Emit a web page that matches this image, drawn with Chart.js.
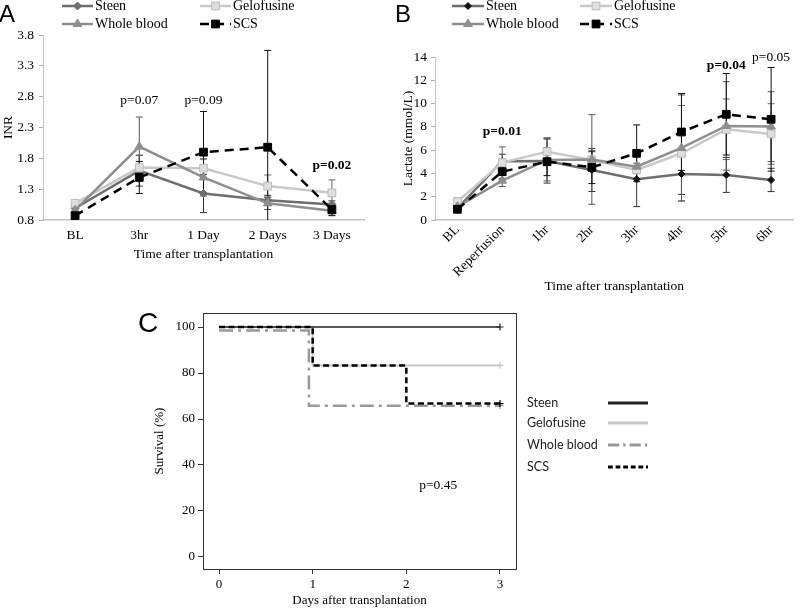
<!DOCTYPE html>
<html>
<head>
<meta charset="utf-8">
<script src="https://cdn.jsdelivr.net/npm/chart.js@4.4.1/dist/chart.umd.min.js"></script>
<style>
  body { margin: 0; background: #fff; }
  #wrap { position: relative; width: 800px; height: 608px; overflow: hidden; }
  canvas { position: absolute; }
  .letter { position: absolute; font-family: "Liberation Sans", Arial, sans-serif; color: #000; }
</style>
</head>
<body>
<div id="wrap">
  <canvas id="chartA" width="400" height="270" style="left:0;top:0"></canvas>
  <canvas id="chartB" width="400" height="300" style="left:400px;top:0"></canvas>
  <canvas id="chartC" width="540" height="308" style="left:130px;top:300px"></canvas>
  <div class="letter" style="left:-1px;top:2px;font-size:24px;line-height:24px">A</div>
  <div class="letter" style="left:395px;top:2px;font-size:24px;line-height:24px">B</div>
  <div class="letter" style="left:138px;top:309px;font-size:28px;line-height:28px">C</div>
</div>
<script>
// --- panel A: INR
var inrLabels = ["BL", "3hr", "1 Day", "2 Days", "3 Days"];
var inrTicks = [0.8, 1.3, 1.8, 2.3, 2.8, 3.3, 3.8];
var inrSteen = [0.99, 1.6, 1.23, 1.12, 1.05];
var inrSteenErr = [0.06, 0.25, 0.31, 0.08, 0.06];
var inrGelo = [1.07, 1.65, 1.64, 1.35, 1.24];
var inrGeloErr = [0.05, 0.2, 0.15, 0.18, 0.21];
var inrBlood = [0.96, 1.99, 1.49, 1.07, 0.95];
var inrBloodErr = [0.05, 0.48, 0.3, 0.1, 0.07];
var inrScs = [0.87, 1.49, 1.9, 1.98, 0.97];
var inrScsErr = [0.04, 0.26, 0.66, 1.57, 0.1];

// --- panel B: lactate
var lacLabels = ["BL", "Reperfusion", "1hr", "2hr", "3hr", "4hr", "5hr", "6hr"];
var lacSteen = [1.0, 5.05, 5.07, 4.3, 3.5, 3.95, 3.87, 3.44];
var lacSteenErr = [0.3, 0.6, 1.9, 1.85, 2.35, 1.75, 1.5, 1.0];
var lacGelo = [1.58, 4.93, 5.87, 5.16, 4.3, 5.73, 7.79, 7.39];
var lacGeloErr = [0.3, 1.35, 1.2, 0.7, 0.3, 4.1, 2.6, 2.6];
var lacBlood = [1.15, 3.38, 5.16, 5.2, 4.58, 6.19, 8.08, 8.02];
var lacBloodErr = [0.3, 0.5, 1.8, 3.85, 0.3, 4.55, 3.8, 3.0];
var lacScs = [0.92, 4.15, 5.01, 4.53, 5.73, 7.56, 9.08, 8.65];
var lacScsErr = [0.2, 0.7, 1.2, 1.4, 2.44, 3.3, 3.5, 4.45];

// --- panel C: survival (Kaplan-Meier steps)
var survTicksX = [0, 1, 2, 3];
var survTicksY = [0, 20, 40, 60, 80, 100];
var steenDays = [0, 3];
var steenSurv = [100, 100];
var geloDays = [0, 1, 3];
var geloSurv = [100, 83.3, 83.3];
var bloodDays = [0, 0.96, 3];
var bloodSurv = [98.5, 65.8, 65.8];
var scsDays = [0, 1, 2, 3];
var scsSurv = [100, 83.3, 66.7, 66.7];

var groups = ["Steen", "Gelofusine", "Whole blood", "SCS"];

var serif = "'Liberation Serif', 'Times New Roman', serif";

function drawMark(ctx, style, x, y, r) {
  ctx.beginPath();
  if (style === "rect") {
    var s = r * Math.SQRT1_2;
    ctx.rect(x - s, y - s, 2 * s, 2 * s);
  } else if (style === "rectRot") {
    ctx.moveTo(x, y - r); ctx.lineTo(x + r, y); ctx.lineTo(x, y + r); ctx.lineTo(x - r, y);
    ctx.closePath();
  } else if (style === "triangle") {
    ctx.moveTo(x, y - r);
    ctx.lineTo(x + r * 0.866, y + r * 0.5);
    ctx.lineTo(x - r * 0.866, y + r * 0.5);
    ctx.closePath();
  }
  ctx.fill();
  ctx.stroke();
}

// error bars under the lines
var errorBars = {
  id: "errorBars",
  beforeDatasetsDraw: function (chart) {
    var ctx = chart.ctx, ys = chart.scales.y, a = chart.chartArea;
    ctx.save();
    ctx.beginPath();
    ctx.rect(a.left, a.top, a.right - a.left, a.bottom - a.top);
    ctx.clip();
    chart.data.datasets.forEach(function (ds, i) {
      if (!ds.errors) return;
      var meta = chart.getDatasetMeta(i);
      ctx.strokeStyle = ds.errorColor;
      ctx.lineWidth = 1;
      meta.data.forEach(function (pt, j) {
        var v = ds.data[j], e = ds.errors[j];
        var top = ys.getPixelForValue(v + e), bot = ys.getPixelForValue(v - e);
        ctx.beginPath();
        ctx.moveTo(pt.x, top); ctx.lineTo(pt.x, bot);
        ctx.moveTo(pt.x - 3.5, top); ctx.lineTo(pt.x + 3.5, top);
        ctx.moveTo(pt.x - 3.5, bot); ctx.lineTo(pt.x + 3.5, bot);
        ctx.stroke();
      });
    });
    ctx.restore();
  }
};

// p-value notes placed in data coordinates
var notes = {
  id: "notes",
  afterDatasetsDraw: function (chart, args, opts) {
    var ctx = chart.ctx;
    ctx.save();
    ctx.fillStyle = "#000";
    ctx.textAlign = "center";
    ctx.textBaseline = "middle";
    (opts.items || []).forEach(function (n) {
      ctx.font = (n.bold ? "bold " : "") + "13.5px " + serif;
      ctx.fillText(n.text, chart.scales.x.getPixelForValue(n.x), chart.scales.y.getPixelForValue(n.y));
    });
    ctx.restore();
  }
};

// 2x2 legend with line + marker samples
var gridLegend = {
  id: "gridLegend",
  afterDraw: function (chart, args, opts) {
    if (!opts.cols) return;
    var ctx = chart.ctx;
    ctx.save();
    chart.data.datasets.forEach(function (ds, i) {
      var x0 = opts.cols[i % 2], y = opts.rows[Math.floor(i / 2)];
      ctx.strokeStyle = ds.borderColor;
      ctx.lineWidth = ds.borderWidth;
      ctx.setLineDash(ds.borderDash || []);
      ctx.beginPath();
      ctx.moveTo(x0, y); ctx.lineTo(x0 + opts.sample, y);
      ctx.stroke();
      ctx.setLineDash([]);
      ctx.fillStyle = ds.pointBackgroundColor;
      ctx.strokeStyle = ds.pointBorderColor;
      ctx.lineWidth = 1;
      drawMark(ctx, ds.pointStyle, x0 + opts.sample / 2, y, ds.pointRadius);
      ctx.fillStyle = "#000";
      ctx.font = "14px " + serif;
      ctx.textBaseline = "middle";
      ctx.fillText(ds.label, x0 + opts.sample + 2, y);
    });
    ctx.restore();
  }
};

function lineChart(id, labels, sets, yOpts, padding, yWidth, xHeight, xTicks, titlePad, notesItems, legendOpts) {
  return new Chart(document.getElementById(id), {
    type: "line",
    data: { labels: labels, datasets: sets },
    options: {
      responsive: false,
      animation: false,
      layout: { padding: padding },
      elements: { line: { tension: 0 } },
      plugins: {
        legend: { display: false },
        tooltip: { enabled: false },
        notes: { items: notesItems },
        gridLegend: legendOpts
      },
      scales: {
        x: {
          offset: true,
          grid: { drawOnChartArea: false, drawTicks: false },
          border: { color: "#c4c4c4", width: 1.5 },
          ticks: Object.assign({ color: "#000", autoSkip: false, font: { family: serif, size: 13.5 } }, xTicks),
          title: { display: true, text: "Time after transplantation", color: "#000",
                   font: { family: serif, size: 13.5 }, padding: { top: 0, bottom: titlePad } },
          afterFit: function (s) { s.height = xHeight; }
        },
        y: Object.assign({
          grid: { drawOnChartArea: false, tickLength: 4, color: "#aaa" },
          border: { color: "#c4c4c4", width: 1 },
          afterFit: function (s) { s.width = yWidth; }
        }, yOpts)
      }
    },
    plugins: [errorBars, notes, gridLegend]
  });
}

function groupStyles(steenMark, steenR) {
  return [
    { borderColor: "#6e6e6e", pointStyle: "rectRot", pointRadius: steenR,
      pointBackgroundColor: steenMark, pointBorderColor: steenMark, borderWidth: 2.5, errorColor: "#333" },
    { borderColor: "#c9c9c9", pointStyle: "rect", pointRadius: 5.5,
      pointBackgroundColor: "#dedede", pointBorderColor: "#bdbdbd", borderWidth: 2.5, errorColor: "#666" },
    { borderColor: "#8e8e8e", pointStyle: "triangle", pointRadius: 5,
      pointBackgroundColor: "#8e8e8e", pointBorderColor: "#8e8e8e", borderWidth: 2.5, errorColor: "#555" },
    { borderColor: "#000", borderDash: [9, 6], pointStyle: "rect", pointRadius: 5.5,
      pointBackgroundColor: "#000", pointBorderColor: "#000", borderWidth: 2.5, errorColor: "#111" }
  ];
}

// later series drawn on top (order 3..0)
function makeSets(values, errors, styles) {
  return groups.map(function (g, i) {
    return Object.assign({ label: g, data: values[i], errors: errors[i], pointBorderWidth: 1, order: 3 - i }, styles[i]);
  });
}

var stylesA = groupStyles("#6e6e6e", 4);
lineChart("chartA", inrLabels,
  makeSets([inrSteen, inrGelo, inrBlood, inrScs], [inrSteenErr, inrGeloErr, inrBloodErr, inrScsErr], stylesA),
  {
    min: 0.8, max: 3.8,
    afterBuildTicks: function (s) { s.ticks = inrTicks.map(function (v) { return { value: v }; }); },
    ticks: { color: "#000", padding: 5, font: { family: serif, size: 13.5 },
             callback: function (v) { return v.toFixed(1); } },
    title: { display: true, text: "INR", color: "#000", font: { family: serif, size: 13.5 }, padding: { top: 0 } }
  },
  { top: 35, right: 36, left: 0, bottom: 0 }, 43, 50,
  { padding: 7, maxRotation: 0 }, 7,
  [
    { text: "p=0.07", x: 1, y: 2.74 },
    { text: "p=0.09", x: 2, y: 2.74 },
    { text: "p=0.02", x: 4, y: 1.68, bold: true }
  ],
  { cols: [62, 200], rows: [6, 24], sample: 31 });

var stylesB = groupStyles("#111", 3.5);
lineChart("chartB", lacLabels,
  makeSets([lacSteen, lacGelo, lacBlood, lacScs], [lacSteenErr, lacGeloErr, lacBloodErr, lacScsErr], stylesB),
  {
    min: 0, max: 14,
    ticks: { stepSize: 2, color: "#000", padding: 4, font: { family: serif, size: 13.5 } },
    title: { display: true, text: "Lactate (mmol/L)", color: "#000", font: { family: serif, size: 13.5 }, padding: { top: 0 } }
  },
  { top: 57, right: 0, left: 0, bottom: 0 }, 35, 80,
  { padding: 2, minRotation: 45, maxRotation: 45 }, 5,
  [
    { text: "p=0.01", x: 1, y: 7.56, bold: true },
    { text: "p=0.04", x: 6, y: 13.3, bold: true },
    { text: "p=0.05", x: 7, y: 14.0 }
  ],
  { cols: [52, 180], rows: [6, 24], sample: 32 });

// --- panel C
function pts(xs, ys) { return xs.map(function (x, i) { return { x: x, y: ys[i] }; }); }
function censor(n) { return function (c) { return c.dataIndex === n - 1 ? 3.5 : 0; }; }

var survStyles = [
  { color: "#222", dash: [], width: 1.5 },
  { color: "#c8c8c8", dash: [], width: 2 },
  { color: "#999", dash: [14, 5, 3, 5], width: 2.5 },
  { color: "#000", dash: [6, 3.5], width: 2.5 }
];
var survData = [pts(steenDays, steenSurv), pts(geloDays, geloSurv), pts(bloodDays, bloodSurv), pts(scsDays, scsSurv)];
// first dataset is drawn on top in Chart.js
var drawOrder = [3, 0, 2, 1];

var survLegend = {
  id: "survLegend",
  afterDraw: function (chart) {
    var ctx = chart.ctx, a = chart.chartArea;
    ctx.save();
    ctx.strokeStyle = "#333";
    ctx.lineWidth = 1;
    ctx.strokeRect(a.left + 0.5, a.top + 0.5, a.right - a.left, a.bottom - a.top);
    var ys = [103, 123, 145, 167];
    groups.forEach(function (g, i) {
      var st = survStyles[i];
      ctx.fillStyle = "#222";
      ctx.font = "12.5px Lato, 'Open Sans', sans-serif";
      ctx.textBaseline = "middle";
      ctx.textAlign = "left";
      ctx.fillText(g, 397, ys[i]);
      ctx.strokeStyle = st.color;
      ctx.lineWidth = 3;
      ctx.setLineDash(st.dash.length ? st.dash.map(function (d) { return d * 0.8; }) : []);
      ctx.beginPath();
      ctx.moveTo(478, ys[i]); ctx.lineTo(518, ys[i]);
      ctx.stroke();
      ctx.setLineDash([]);
    });
    ctx.restore();
  }
};

var survNotes = {
  id: "survNotes",
  afterDatasetsDraw: function (chart) {
    var ctx = chart.ctx;
    ctx.save();
    ctx.fillStyle = "#000";
    ctx.font = "13.5px " + serif;
    ctx.textAlign = "center";
    ctx.textBaseline = "middle";
    ctx.fillText("p=0.45", chart.scales.x.getPixelForValue(2.34), chart.scales.y.getPixelForValue(31.3));
    ctx.restore();
  }
};

new Chart(document.getElementById("chartC"), {
  type: "scatter",
  data: {
    datasets: drawOrder.map(function (i) {
      var st = survStyles[i];
      return {
        label: groups[i], data: survData[i], showLine: true, stepped: true,
        borderColor: st.color, borderDash: st.dash, borderWidth: st.width,
        pointStyle: "cross", pointRadius: censor(survData[i].length),
        pointBorderColor: st.color, pointBorderWidth: 1.2
      };
    })
  },
  options: {
    responsive: false,
    animation: false,
    layout: { padding: { top: 13, right: 154, left: 0, bottom: 0 } },
    plugins: { legend: { display: false }, tooltip: { enabled: false } },
    scales: {
      x: {
        type: "linear", min: -0.171, max: 3.171,
        afterBuildTicks: function (s) { s.ticks = survTicksX.map(function (v) { return { value: v }; }); },
        grid: { drawOnChartArea: false, tickLength: 5, color: "#333" },
        border: { display: false },
        ticks: { color: "#000", padding: 3, font: { family: serif, size: 13 } },
        title: { display: true, text: "Days after transplantation", color: "#000",
                 font: { family: serif, size: 13 }, padding: { top: 0, bottom: 0 } },
        afterFit: function (s) { s.height = 39; }
      },
      y: {
        min: -5.22, max: 106.09,
        afterBuildTicks: function (s) { s.ticks = survTicksY.map(function (v) { return { value: v }; }); },
        grid: { drawOnChartArea: false, tickLength: 5, color: "#333" },
        border: { display: false },
        ticks: { color: "#000", padding: 3, font: { family: serif, size: 13 } },
        title: { display: true, text: "Survival (%)", color: "#000",
                 font: { family: serif, size: 13 }, padding: { top: 22 } },
        afterFit: function (s) { s.width = 73; }
      }
    }
  },
  plugins: [survLegend, survNotes]
});
</script>
</body>
</html>
